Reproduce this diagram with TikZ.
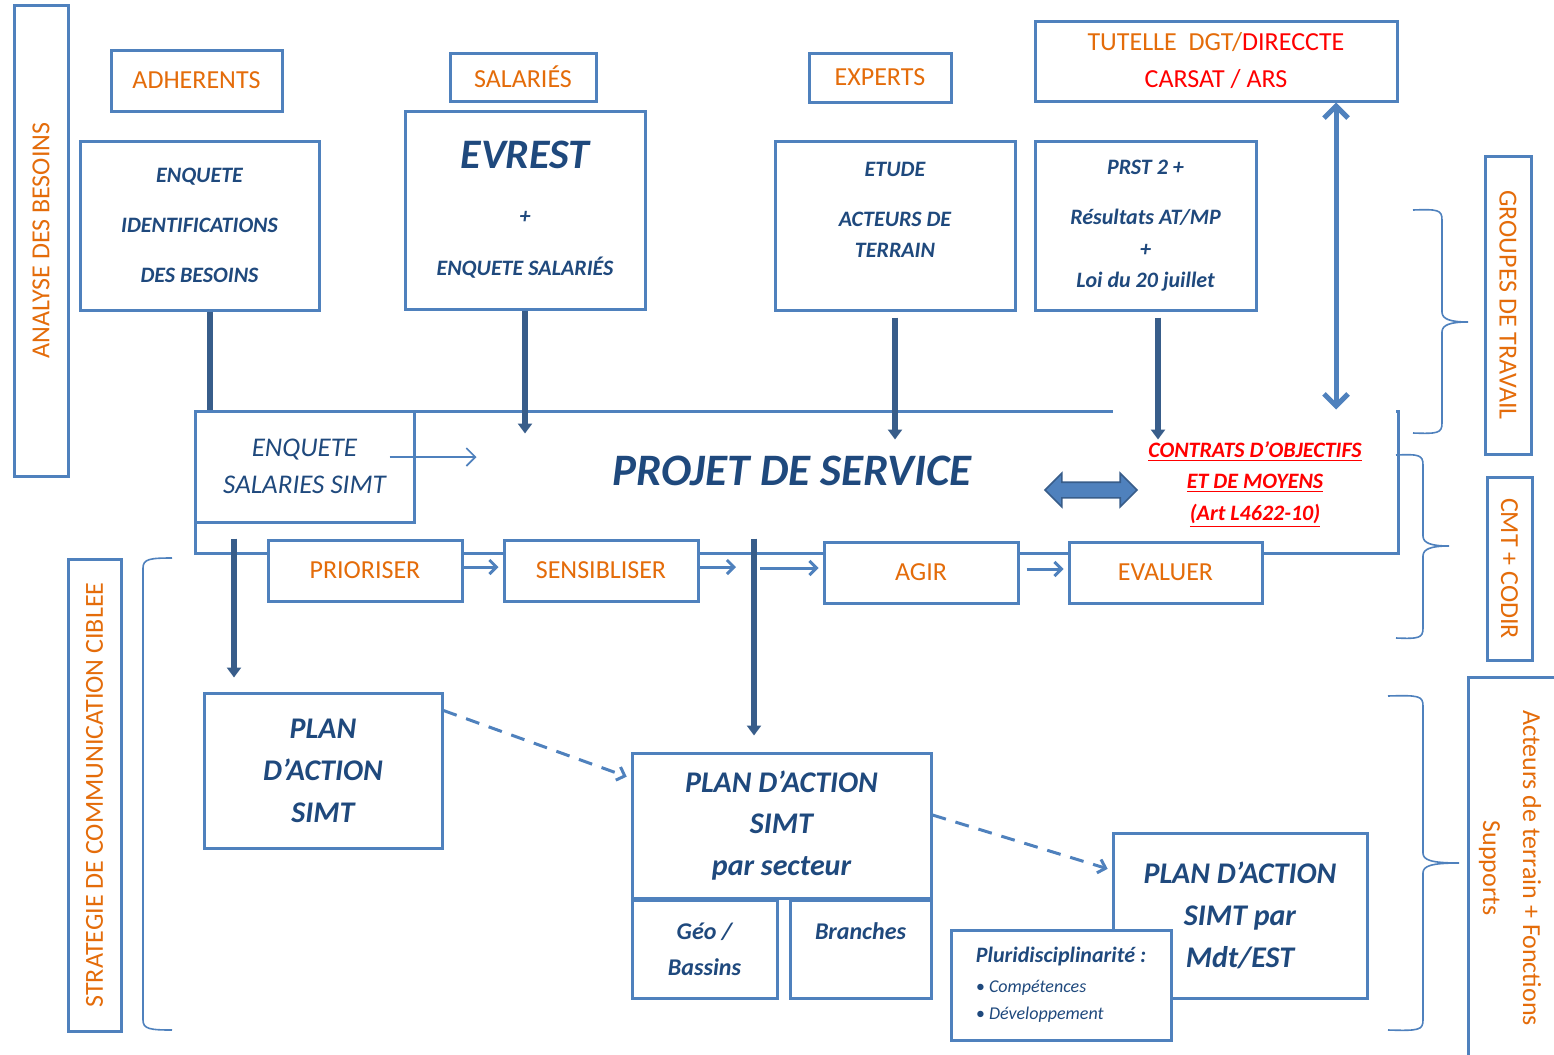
\documentclass[tikz,border=0pt]{standalone}
\usepackage{fontspec}
\setmainfont{Carlito}
\usetikzlibrary{arrows.meta,shapes.arrows}
\definecolor{boxblue}{RGB}{79,129,189}
\definecolor{textblue}{RGB}{31,73,125}
\definecolor{linkblue}{RGB}{56,93,138}
\definecolor{labelorange}{RGB}{228,108,10}
\newcommand{\simtbrace}[6]{%
  \draw[bracket] (#1,#4) .. controls (#2-4,#4-1) and (#2,#4) .. (#2,#4+10)
    -- (#2,#5-10) .. controls (#2,#5-3) and (#2+8,#5) .. (#3,#5)
    .. controls (#2+8,#5) and (#2,#5+3) .. (#2,#5+10)
    -- (#2,#6-10) .. controls (#2,#6) and (#2-4,#6+1) .. (#1,#6);}

\begin{document}
\begin{tikzpicture}[x=0.5pt,y=-0.5pt,
  simtbox/.style={draw=boxblue,line width=1.5pt,fill=white,inner sep=0pt,align=center},
  tagbox/.style={simtbox,text=labelorange,font=\fontsize{13}{16}\selectfont},
  sidebox/.style={tagbox,rotate=90},
  sideboxr/.style={tagbox,rotate=-90},
  infobox/.style={simtbox,text=textblue,font=\fontsize{11}{25}\selectfont\bfseries\itshape},
  darkline/.style={draw=linkblue,line width=3pt},
  darkarrow/.style={darkline,-{Triangle[width=7pt,length=5pt]}},
  flowarrow/.style={draw=boxblue,line width=1.5pt,-{Straight Barb[width=7pt,length=3.5pt]},shorten >=2pt},
  dasharrow/.style={flowarrow,dash pattern=on 7pt off 5pt},
  duplex/.style={draw=boxblue,line width=2.5pt,{Straight Barb[width=12pt,length=6pt]}-{Straight Barb[width=12pt,length=6pt]}},
  pointer/.style={draw=boxblue,line width=0.8pt,-{Straight Barb[width=9pt,length=4.5pt]}},
  bracket/.style={draw=boxblue,line width=0.8pt}]
  \useasboundingbox (0,0) rectangle (1554,1055);

  \node[sidebox,minimum width=235.5pt,minimum height=27pt] (analyse) at (41,240.5) {ANALYSE DES BESOINS};
  \node[sidebox,minimum width=236pt,minimum height=26.5pt] (strategie) at (94.5,795) {STRATEGIE DE COMMUNICATION CIBLEE};
  \node[sideboxr,minimum width=149pt,minimum height=23pt] (groupes) at (1508,305) {GROUPES DE TRAVAIL};
  \node[sideboxr,minimum width=91.5pt,minimum height=22.5pt] (cmt) at (1509.5,568.5) {CMT + CODIR};
  \node[simtbox,minimum width=52pt,minimum height=213pt] (acteurs) at (1520,890) {};
  \node[text=labelorange,rotate=-90,align=center,font=\fontsize{13}{20}\selectfont] (acteurstxt) at (1510,868) {Acteurs de terrain + Fonctions\\Supports};

  \node[tagbox,minimum width=85.5pt,minimum height=30.5pt] (adherents) at (196.5,80.5) {ADHERENTS};
  \node[tagbox,minimum width=73pt,minimum height=24pt] (salaries) at (523,77) {SALARIÉS};
  \node[tagbox,minimum width=71pt,minimum height=24.5pt] (experts) at (880,77.5) {EXPERTS};
  \node[tagbox,minimum width=181pt,minimum height=40pt,font=\fontsize{13}{18.5}\selectfont] (tutelle) at (1216,61) {TUTELLE\ \ DGT/\textcolor{red}{DIRECCTE}\\\textcolor{red}{CARSAT / ARS}};

  \node[infobox,minimum width=119.5pt,minimum height=84.5pt] (enqbesoins) at (199.5,225.5) {ENQUETE\\IDENTIFICATIONS\\DES BESOINS};
  \node[infobox,minimum width=120pt,minimum height=99pt,font=\fontsize{11}{26}\selectfont\bfseries\itshape] (evrest) at (525,210) {{\fontsize{21}{26}\selectfont EVREST}\\[1.5pt]+\\ENQUETE SALARIÉS};
  \node[infobox,minimum width=120pt,minimum height=84.5pt,font=\fontsize{11}{15.5}\selectfont\bfseries\itshape] (etude) at (895,225.5) {ETUDE\\[9.5pt]ACTEURS DE\\TERRAIN\\\mbox{}};
  \node[infobox,minimum width=110.5pt,minimum height=84.5pt,font=\fontsize{11}{15.75}\selectfont\bfseries\itshape] (prst) at (1145.5,225.5) {PRST 2 +\\[9.5pt]Résultats AT/MP\\+\\Loi du 20 juillet};

  \node[simtbox,minimum width=601.5pt,minimum height=71pt] (projet) at (796.5,482) {};
  \node[simtbox,minimum width=109.5pt,minimum height=55.5pt,text=textblue,font=\fontsize{13.5}{18.5}\selectfont\itshape] (enqsimt) at (304.5,466.5) {ENQUETE\\SALARIES SIMT};
  \node[fill=white,inner sep=0pt,minimum width=141.5pt,minimum height=71pt] (contrats) at (1254.5,480) {};
  \node[text=red,align=center,font=\fontsize{11}{15.75}\selectfont\bfseries\itshape] (contratstxt) at (1255,484.5) {\underline{CONTRATS D’OBJECTIFS}\\\underline{ET DE MOYENS}\\\underline{(Art L4622-10)}};
  \node[text=textblue,font=\fontsize{22.5}{22.5}\selectfont\bfseries\itshape] (projettitle) at (792,471) {PROJET DE SERVICE};
  \node[double arrow,fill=boxblue,draw=linkblue,line width=0.8pt,inner sep=3.5pt,minimum height=46pt,double arrow head extend=4.5pt] (lien) at (1091,490) {};

  \node[tagbox,minimum width=97pt,minimum height=30.5pt] (prioriser) at (365,570.5) {PRIORISER};
  \node[tagbox,minimum width=97pt,minimum height=30.5pt] (sensibiliser) at (601,570.5) {SENSIBLISER};
  \node[tagbox,minimum width=97pt,minimum height=30.5pt] (agir) at (921,572.5) {AGIR};
  \node[tagbox,minimum width=96.5pt,minimum height=30.5pt] (evaluer) at (1165.5,572.5) {EVALUER};

  \node[infobox,minimum width=119pt,minimum height=77.5pt,font=\fontsize{15}{21}\selectfont\bfseries\itshape] (planA) at (323,770.5) {PLAN\\D’ACTION\\SIMT};
  \node[infobox,minimum width=149.5pt,minimum height=72.5pt,font=\fontsize{15}{20.75}\selectfont\bfseries\itshape] (planB) at (781.5,825.5) {PLAN D’ACTION\\SIMT\\par secteur};
  \node[infobox,minimum width=72.5pt,minimum height=49pt,font=\fontsize{12}{18}\selectfont\bfseries\itshape] (geo) at (704.5,949) {Géo /\\Bassins};
  \node[infobox,minimum width=70.5pt,minimum height=49pt,font=\fontsize{12}{18}\selectfont\bfseries\itshape] (branches) at (860.5,949) {Branches\\\mbox{}};
  \node[infobox,minimum width=127pt,minimum height=82.5pt,font=\fontsize{15}{21}\selectfont\bfseries\itshape] (planC) at (1240,915.5) {PLAN D’ACTION\\SIMT par\\Mdt/EST};
  \node[simtbox,minimum width=110pt,minimum height=55pt,text=textblue,align=left,font=\fontsize{9}{13.5}\selectfont\itshape] (pluri) at (1061,985) {{\fontsize{11}{13.5}\selectfont\bfseries Pluridisciplinarité :}\\[1.5pt]\textbullet\ Compétences\\\textbullet\ Développement};

  \draw[darkline] ([xshift=5.25pt]enqbesoins.south) -- ([xshift=5.25pt]enqbesoins.south |- projet.north);
  \draw[darkarrow] (evrest.south) -- ([yshift=-12pt]evrest.south |- projet.north);
  \draw[darkarrow] ([yshift=-3pt]etude.south) -- ([yshift=-15pt]etude.south |- projet.north);
  \draw[darkarrow] ([xshift=6.25pt,yshift=-3pt]prst.south) -- ([xshift=6.25pt,yshift=-15pt]prst.south |- projet.north);
  \draw[duplex] ([xshift=60pt]tutelle.south) -- ([xshift=60pt]tutelle.south |- projet.north);
  \draw[pointer] ([xshift=-13pt,yshift=4.75pt]enqsimt.east) -- ([xshift=30.5pt,yshift=4.75pt]enqsimt.east);
  \draw[darkarrow] ([xshift=-44.5pt]planA.north |- prioriser.north) -- ([xshift=-44.5pt,yshift=7pt]planA.north);
  \draw[darkarrow] ([xshift=-13.75pt]planB.north |- sensibiliser.north) -- ([xshift=-13.75pt,yshift=8pt]planB.north);
  \draw[flowarrow] ([yshift=1.75pt]prioriser.east) -- ([yshift=1.75pt]sensibiliser.west);
  \draw[flowarrow] ([yshift=1.75pt]sensibiliser.east) -- ([xshift=-20.75pt,yshift=1.75pt]planB.north |- sensibiliser.east);
  \draw[flowarrow] ([xshift=-10.75pt,yshift=2.25pt]planB.north |- agir.west) -- ([yshift=2.25pt]agir.west);
  \draw[flowarrow] ([xshift=3.5pt,yshift=1.75pt]agir.east) -- ([yshift=1.75pt]evaluer.west);
  \draw[dasharrow] ([yshift=-9.5pt]planA.north east) -- ([yshift=23.75pt]planB.west);
  \draw[dasharrow] ([yshift=5.25pt]planB.east) -- ([yshift=22.75pt]planC.west);

  \draw[bracket] (172,558) .. controls (150,558) and (143,559) .. (143,568) -- (143,1020) .. controls (143,1029) and (150,1030) .. (172,1030);
  \simtbrace{1413}{1442}{1468}{210}{322}{433}
  \simtbrace{1396}{1423}{1449}{455}{546}{638}
  \simtbrace{1388}{1423}{1459}{696}{863}{1030}
\end{tikzpicture}
\end{document}
